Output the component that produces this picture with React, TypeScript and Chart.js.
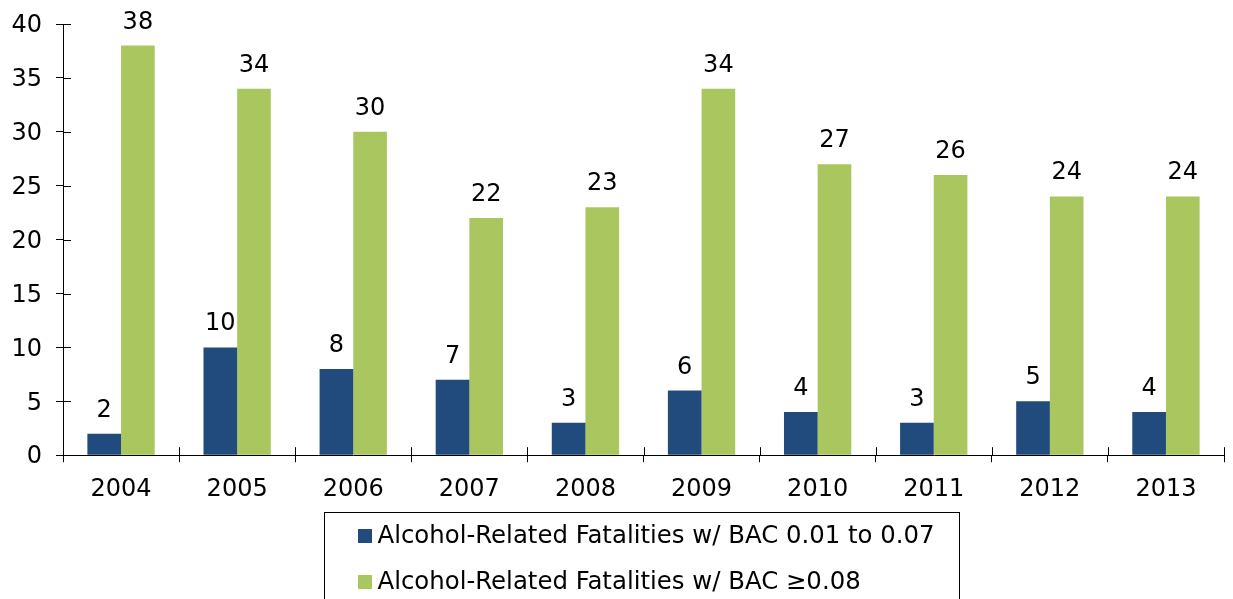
import React, { useEffect, useRef } from "react";
import { Chart, registerables } from "chart.js";

Chart.register(...registerables);

const categories = ["2004", "2005", "2006", "2007", "2008", "2009", "2010", "2011", "2012", "2013"];
const seriesLowBac = [2, 10, 8, 7, 3, 6, 4, 3, 5, 4];
const seriesHighBac = [38, 34, 30, 22, 23, 34, 27, 26, 24, 24];
const seriesNames = [
  "Alcohol-Related Fatalities w/ BAC 0.01 to 0.07",
  "Alcohol-Related Fatalities w/ BAC \u22650.08",
];
const seriesColors = ["#214A7D", "#AAC65F"];
const yTicks = [0, 5, 10, 15, 20, 25, 30, 35, 40];

const FONT = "'DejaVu Sans', Verdana, sans-serif";

const innerTicksPlugin = {
  id: "innerTicks",
  afterDraw(chart: any) {
    const ctx = chart.ctx;
    const x = chart.scales.x;
    const y = chart.scales.y;
    ctx.save();
    ctx.strokeStyle = "#000";
    ctx.lineWidth = 1;
    ctx.beginPath();
    y.ticks.forEach((_t: any, i: number) => {
      const py = Math.round(y.getPixelForTick(i)) + 0.5;
      ctx.moveTo(y.right, py);
      ctx.lineTo(y.right + 8, py);
    });
    const n = categories.length;
    for (let i = 0; i <= n; i++) {
      const px = Math.round(x.left + (i * x.width) / n) + 0.5;
      ctx.moveTo(px, x.top);
      ctx.lineTo(px, x.top - 8);
    }
    ctx.stroke();
    ctx.restore();
  },
};

const valueLabelsPlugin = {
  id: "valueLabels",
  afterDatasetsDraw(chart: any) {
    const ctx = chart.ctx;
    ctx.save();
    ctx.font = `24px ${FONT}`;
    ctx.fillStyle = "#000";
    ctx.textAlign = "center";
    ctx.textBaseline = "alphabetic";
    chart.data.datasets.forEach((ds: any, di: number) => {
      const meta = chart.getDatasetMeta(di);
      meta.data.forEach((bar: any, i: number) => {
        ctx.fillText(String(ds.data[i]), bar.x, bar.y - 17);
      });
    });
    ctx.restore();
  },
};

const boxLegendPlugin = {
  id: "boxLegend",
  afterDraw(chart: any) {
    const ctx = chart.ctx;
    const area = chart.chartArea;
    ctx.save();
    ctx.font = `24.4px ${FONT}`;
    const names = chart.data.datasets.map((d: any) => d.label);
    const maxW = Math.max(...names.map((s: string) => ctx.measureText(s).width));
    const boxW = Math.round(33 + 14 + 6 + maxW + 25);
    const cx = (area.left + area.right) / 2 - 2;
    const left = Math.round(cx - boxW / 2) + 0.5;
    const top = chart.height - 87 + 0.5;
    ctx.strokeStyle = "#000";
    ctx.lineWidth = 1;
    ctx.strokeRect(left, top, boxW, 140);
    chart.data.datasets.forEach((d: any, i: number) => {
      const rowMid = top + 23 + i * 46.5;
      ctx.fillStyle = d.backgroundColor;
      ctx.fillRect(Math.round(left + 33), Math.round(rowMid - 7), 14, 14);
      ctx.fillStyle = "#000";
      ctx.textBaseline = "middle";
      ctx.textAlign = "left";
      ctx.fillText(d.label, left + 33 + 14 + 6, rowMid + 1);
    });
    ctx.restore();
  },
};

export default function App() {
  const canvasRef = useRef<HTMLCanvasElement | null>(null);

  useEffect(() => {
    document.body.style.margin = "0";
    const canvas = canvasRef.current;
    if (!canvas) return;
    const chart = new Chart(canvas, {
      type: "bar",
      data: {
        labels: categories,
        datasets: [
          {
            label: seriesNames[0],
            data: seriesLowBac,
            backgroundColor: seriesColors[0],
            categoryPercentage: 0.58,
            barPercentage: 1,
          },
          {
            label: seriesNames[1],
            data: seriesHighBac,
            backgroundColor: seriesColors[1],
            categoryPercentage: 0.58,
            barPercentage: 1,
          },
        ],
      },
      options: {
        animation: false,
        responsive: false,
        maintainAspectRatio: false,
        layout: { padding: { top: 24, left: 0, right: 9, bottom: 82 } },
        plugins: {
          legend: { display: false },
          tooltip: { enabled: false },
        },
        scales: {
          x: {
            grid: {
              display: true,
              drawOnChartArea: false,
              drawTicks: true,
              tickLength: 7,
              color: "#000",
              offset: true,
            },
            border: { display: true, color: "#000", width: 1 },
            ticks: {
              color: "#000",
              font: { family: FONT, size: 24 },
              padding: 13,
              maxRotation: 0,
            },
          },
          y: {
            min: 0,
            max: 40,
            afterBuildTicks: (scale: any) => {
              scale.ticks = yTicks.map((v) => ({ value: v }));
            },
            afterFit: (scale: any) => {
              scale.width = 63;
              scale.paddingTop = 0;
              scale.paddingBottom = 0;
            },
            grid: {
              display: true,
              drawOnChartArea: false,
              drawTicks: true,
              tickLength: 7,
              color: "#000",
            },
            border: { display: true, color: "#000", width: 1 },
            ticks: {
              color: "#000",
              font: { family: FONT, size: 24 },
              padding: 14,
              labelOffset: 2,
            },
          },
        },
      },
      plugins: [innerTicksPlugin, valueLabelsPlugin, boxLegendPlugin],
    });
    return () => chart.destroy();
  }, []);

  return (
    <div style={{ width: 1233, height: 599, position: "relative" }}>
      <canvas ref={canvasRef} width={1233} height={599} style={{ display: "block" }} />
    </div>
  );
}
